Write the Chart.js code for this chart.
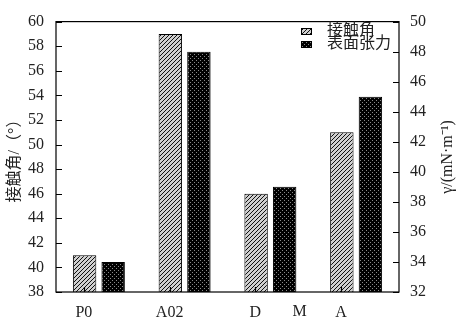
<!DOCTYPE html>
<html lang="zh">
<head>
    <meta charset="UTF-8">
    <script src="https://cdn.jsdelivr.net/npm/chart.js"></script>
    <title>接触角与表面张力</title>
    <style>
        body { margin: 0; background: #fff; }
        #wrap { width: 458px; height: 325px; }
    </style>
</head>
<body>
    <div id="wrap"><canvas id="chart" width="458" height="325"></canvas></div>
    <script>
        // data
        const categories = ['P0', 'A02', 'D', 'A'];
        const extraLabel = 'M';
        const contactAngle = [41, 59, 46, 51];      // left axis, degrees
        const surfaceTension = [34, 48, 39, 45];    // right axis, mN/m
        const leftRange = [38, 60];
        const rightRange = [32, 50];
        const seriesNames = ['接触角', '表面张力'];

        const numFont = '"Liberation Serif", "Noto Sans CJK SC", serif';
        const cjkFont = '"Liberation Serif", "Noto Sans CJK SC", serif';

        function hatchPattern() {
            const c = document.createElement('canvas');
            c.width = 4; c.height = 4;
            const g = c.getContext('2d');
            g.fillStyle = '#d0d0d0';
            g.fillRect(0, 0, 4, 4);
            g.strokeStyle = '#111';
            g.lineWidth = 1;
            g.beginPath();
            g.moveTo(-1, 5); g.lineTo(5, -1);
            g.moveTo(-3, 3); g.lineTo(3, -3);
            g.moveTo(1, 7); g.lineTo(7, 1);
            g.stroke();
            return g.createPattern(c, 'repeat');
        }

        function dotPattern() {
            const c = document.createElement('canvas');
            c.width = 4; c.height = 4;
            const g = c.getContext('2d');
            g.fillStyle = '#000';
            g.fillRect(0, 0, 4, 4);
            g.fillStyle = '#8a8a8a';
            g.fillRect(0, 0, 1, 1);
            g.fillRect(2, 2, 1, 1);
            return g.createPattern(c, 'repeat');
        }

        const hatch = hatchPattern();
        const dots = dotPattern();

        const frame = {
            id: 'frame',
            afterDatasetsDraw(chart) {
                const ctx = chart.ctx;
                const a = chart.chartArea;
                const x = chart.scales.x, yl = chart.scales.y, yr = chart.scales.y1;
                ctx.save();
                ctx.strokeStyle = '#000';
                ctx.lineWidth = 1.2;
                ctx.strokeRect(a.left, a.top, a.right - a.left, a.bottom - a.top);

                // inner tick marks
                ctx.beginPath();
                yl.ticks.forEach(t => {
                    const p = Math.round(yl.getPixelForValue(t.value)) + 0.5;
                    ctx.moveTo(a.left, p); ctx.lineTo(a.left + 6, p);
                });
                yr.ticks.forEach(t => {
                    const p = Math.round(yr.getPixelForValue(t.value)) + 0.5;
                    ctx.moveTo(a.right, p); ctx.lineTo(a.right - 6, p);
                });
                categories.forEach((c, i) => {
                    const p = Math.round(x.getPixelForValue(i) - 15) + 0.5;
                    ctx.moveTo(p, a.bottom); ctx.lineTo(p, a.bottom - 5);
                });
                ctx.stroke();

                // legend
                const lx = 301, ly = [31, 44];
                [hatch, dots].forEach((pat, i) => {
                    ctx.fillStyle = pat;
                    ctx.fillRect(lx, ly[i] - 3, 10, 6);
                    ctx.lineWidth = 1;
                    ctx.strokeRect(lx + 0.5, ly[i] - 2.5, 10, 6);
                    ctx.fillStyle = '#222';
                    ctx.font = '16px ' + cjkFont;
                    ctx.textAlign = 'left';
                    ctx.textBaseline = 'middle';
                    ctx.fillText(seriesNames[i], 327, ly[i]);
                });

                // extra category label
                ctx.font = '16px ' + numFont;
                ctx.textAlign = 'center';
                ctx.textBaseline = 'middle';
                ctx.fillStyle = '#222';
                const step = x.getPixelForValue(1) - x.getPixelForValue(0);
                ctx.fillText(extraLabel, x.getPixelForValue(2) + 0.34 * step, 312);

                // axis titles
                ctx.font = '16px ' + cjkFont;
                ctx.save();
                ctx.translate(15, 157);
                ctx.rotate(-Math.PI / 2);
                ctx.fillText('接触角/（°）', 0, 0);
                ctx.restore();
                ctx.save();
                ctx.translate(448, 157);
                ctx.rotate(-Math.PI / 2);
                ctx.fillText('γ/(mN·m⁻¹)', 0, 0);
                ctx.restore();
                ctx.restore();
            }
        };

        const tickFont = { family: numFont, size: 16 };

        new Chart(document.getElementById('chart').getContext('2d'), {
            type: 'bar',
            data: {
                labels: categories,
                datasets: [{
                    label: seriesNames[0],
                    data: contactAngle,
                    yAxisID: 'y',
                    backgroundColor: hatch,
                    borderColor: '#000',
                    borderWidth: 1
                }, {
                    label: seriesNames[1],
                    data: surfaceTension,
                    yAxisID: 'y1',
                    backgroundColor: dots,
                    borderColor: '#000',
                    borderWidth: 1
                }]
            },
            options: {
                responsive: false,
                animation: false,
                categoryPercentage: 0.666,
                barPercentage: 0.82,
                layout: { padding: { top: 14, left: 0, right: 0, bottom: 0 } },
                plugins: { legend: { display: false }, tooltip: { enabled: false } },
                scales: {
                    x: {
                        grid: { display: false, drawTicks: false },
                        border: { display: false },
                        ticks: { font: tickFont, color: '#222', labelOffset: -15, padding: 11, maxRotation: 0 },
                        afterFit: s => { s.height = 33; }
                    },
                    y: {
                        position: 'left',
                        min: leftRange[0], max: leftRange[1],
                        grid: { display: false, drawTicks: false },
                        border: { display: false },
                        ticks: { font: tickFont, color: '#222', stepSize: 2, padding: 12 },
                        afterFit: s => { s.width = 56; }
                    },
                    y1: {
                        position: 'right',
                        min: rightRange[0], max: rightRange[1],
                        grid: { display: false, drawTicks: false },
                        border: { display: false },
                        ticks: { font: tickFont, color: '#222', stepSize: 2, padding: 11 },
                        afterFit: s => { s.width = 59; }
                    }
                }
            },
            plugins: [frame]
        });
    </script>
</body>
</html>
